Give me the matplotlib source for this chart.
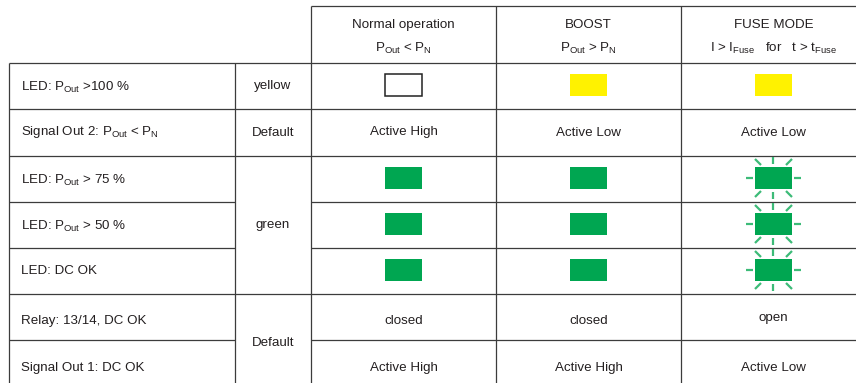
import matplotlib
matplotlib.use("Agg")
import matplotlib.pyplot as plt
from matplotlib.patches import Rectangle

plt.rcParams["font.family"] = ["Liberation Sans", "DejaVu Sans"]
plt.rcParams["mathtext.fontset"] = "custom"
plt.rcParams["mathtext.rm"] = "Liberation Sans"
plt.rcParams["mathtext.it"] = "Liberation Sans"

# table content
modes = ["Normal operation", "BOOST", "FUSE MODE"]
conditions = [r"P$_{\mathrm{Out}}$ < P$_{\mathrm{N}}$",
              r"P$_{\mathrm{Out}}$ > P$_{\mathrm{N}}$",
              r"I > I$_{\mathrm{Fuse}}$   for   t > t$_{\mathrm{Fuse}}$"]
row_labels = [r"LED: P$_{\mathrm{Out}}$ >100 %",
              r"Signal Out 2: P$_{\mathrm{Out}}$ < P$_{\mathrm{N}}$",
              r"LED: P$_{\mathrm{Out}}$ > 75 %",
              r"LED: P$_{\mathrm{Out}}$ > 50 %",
              "LED: DC OK",
              "Relay: 13/14, DC OK",
              "Signal Out 1: DC OK"]
# (label, first row, last row + 1)
groups = [("yellow", 0, 1), ("Default", 1, 2), ("green", 2, 5), ("Default", 5, 7)]
cells = [["off", "yellow", "yellow"],
         ["Active High", "Active Low", "Active Low"],
         ["green", "green", "blink"],
         ["green", "green", "blink"],
         ["green", "green", "blink"],
         ["closed", "closed", "open"],
         ["Active High", "Active High", "Active Low"]]

# layout in pixels
W, H = 856, 383
x_left, x_group, x_modes = 9, 235, [311, 496, 681, 866]
y_top, y_head = 6, 63
row_edges = [63, 109, 156, 202, 248, 294, 340, 396]
text_nudge = [1, 0, 1, 1, 0, 4, 0]

line_c = "#3c3c3c"
text_c = "#231f20"
fs = 9.6
led_colors = {"yellow": "#fff200", "green": "#00a651"}
ray_c = "#3dbb78"

fig = plt.figure(figsize=(W / 100, H / 100), dpi=100)
ax = fig.add_axes([0, 0, 1, 1])
ax.set_xlim(0, W)
ax.set_ylim(H, 0)
ax.axis("off")


def hline(y, x0, x1):
    ax.plot([x0, x1], [y, y], color=line_c, lw=0.9, solid_capstyle="butt")


def vline(x, y0, y1):
    ax.plot([x, x], [y0, y1], color=line_c, lw=0.9, solid_capstyle="butt")


def led(cx, cy, kind):
    w, h = 37, 22
    if kind == "off":
        ax.add_patch(Rectangle((cx - w / 2, cy - h / 2), w, h, facecolor="white",
                               edgecolor="#222222", lw=1.1))
        return
    color = led_colors.get(kind, led_colors["green"])
    ax.add_patch(Rectangle((cx - w / 2, cy - h / 2), w, h, facecolor=color, edgecolor="none"))
    if kind == "blink":
        rays = [((-w / 2 - 9, 0), (-w / 2 - 2, 0)), ((w / 2 + 2, 0), (w / 2 + 9, 0)),
                ((0, -h / 2 - 10), (0, -h / 2 - 3)), ((0, h / 2 + 3), (0, h / 2 + 10)),
                ((-w / 2, -h / 2 - 8), (-w / 2 + 6, -h / 2 - 2)),
                ((w / 2, -h / 2 - 8), (w / 2 - 6, -h / 2 - 2)),
                ((-w / 2, h / 2 + 8), (-w / 2 + 6, h / 2 + 2)),
                ((w / 2, h / 2 + 8), (w / 2 - 6, h / 2 + 2))]
        for (a, b), (c, d) in rays:
            ax.plot([cx + a, cx + c], [cy + b, cy + d], color=ray_c, lw=1.6,
                    solid_capstyle="butt")


# header
hline(y_top, x_modes[0], W)
for x in x_modes[:3]:
    vline(x, y_top, H)
for i, (m, c) in enumerate(zip(modes, conditions)):
    cx = (x_modes[i] + x_modes[i + 1]) / 2
    ax.text(cx, 25, m, ha="center", va="center", fontsize=fs, color=text_c)
    ax.text(cx, 48, c, ha="center", va="center", fontsize=fs, color=text_c)

# body frame
hline(y_head, x_left, W)
vline(x_left, y_head, H)
vline(x_group, y_head, H)

# group cells
for name, r0, r1 in groups:
    hline(row_edges[r1], x_left, W) if r1 < len(row_labels) else None
    cy = (row_edges[r0] + row_edges[min(r1, len(row_edges) - 1)]) / 2
    if r1 == len(row_labels):
        cy = 343
    ax.text((x_group + x_modes[0]) / 2, cy, name, ha="center", va="center",
            fontsize=fs, color=text_c)

# row lines inside groups (not across the group column)
for r in range(1, len(row_labels)):
    if not any(g[1] == r or g[2] == r for g in groups):
        hline(row_edges[r], x_left, x_group)
        hline(row_edges[r], x_modes[0], W)

# rows
for r, label in enumerate(row_labels):
    cy = (row_edges[r] + row_edges[r + 1]) / 2 + text_nudge[r]
    ax.text(21, cy, label, ha="left", va="center", fontsize=fs, color=text_c)
    for i, val in enumerate(cells[r]):
        cx = (x_modes[i] + x_modes[i + 1]) / 2
        if val in ("off", "yellow", "green", "blink"):
            led(cx, (row_edges[r] + row_edges[r + 1]) / 2 - 1, val)
        else:
            dy = -3 if val == "open" else 0
            ax.text(cx, cy + dy, val, ha="center", va="center", fontsize=fs, color=text_c)

fig.savefig("out.png", dpi=100)
